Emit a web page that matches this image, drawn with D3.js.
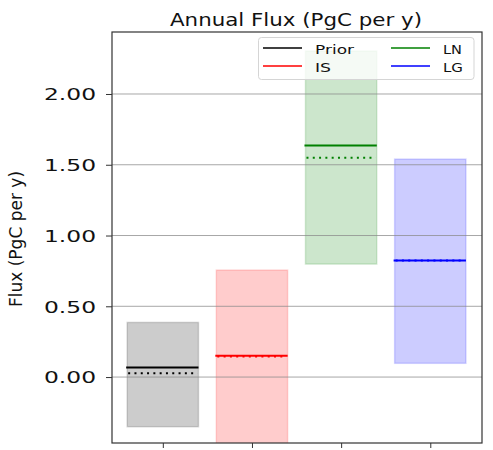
<!DOCTYPE html>
<html>
<head>
<meta charset="utf-8">
<script src="https://cdn.jsdelivr.net/npm/d3@7"></script>
<style>
  html, body { margin: 0; padding: 0; background: #fff; }
  svg { display: block; }
  text { fill: #111; }
</style>
</head>
<body>
<svg id="chart" width="493" height="450"></svg>
<script>
// Estimates of annual flux per method
const categories = ["Prior", "IS", "LN", "LG"];
const upperBound = [0.386, 0.756, 2.304, 1.54];
const lowerBound = [-0.351, -0.6, 0.798, 0.097];
const meanFlux   = [0.068, 0.150, 1.636, 0.824];
const medianFlux = [0.026, 0.145, 1.549, 0.824];
const yTicks = [0, 0.5, 1.0, 1.5, 2.0];
const yTickLabels = ["0.00", "0.50", "1.00", "1.50", "2.00"];

const colors = ["#000000", "#ff0000", "#008000", "#0000ff"];

const svg = d3.select("#chart");
const plot = { left: 112, right: 482, top: 32, bottom: 443 };

const x = d3.scaleLinear().domain([-0.57, 3.58]).range([plot.left, plot.right]);
const y = d3.scaleLinear().domain([-0.466, 2.438]).range([plot.bottom, plot.top]);
const barW = 0.8;

svg.append("defs").append("clipPath").attr("id", "clip")
  .append("rect")
  .attr("x", plot.left).attr("y", plot.top)
  .attr("width", plot.right - plot.left).attr("height", plot.bottom - plot.top);

const body = svg.append("g").attr("clip-path", "url(#clip)");

// uncertainty ranges
body.selectAll("rect.range")
  .data(categories)
  .join("rect")
  .attr("class", "range")
  .attr("x", (d, i) => x(i - barW / 2))
  .attr("width", (d, i) => x(i + barW / 2) - x(i - barW / 2))
  .attr("y", (d, i) => y(upperBound[i]))
  .attr("height", (d, i) => y(lowerBound[i]) - y(upperBound[i]))
  .attr("fill", (d, i) => colors[i])
  .attr("fill-opacity", 0.2)
  .attr("stroke", (d, i) => colors[i])
  .attr("stroke-opacity", 0.15)
  .attr("stroke-width", 1.5);

// horizontal grid
body.selectAll("line.grid")
  .data(yTicks)
  .join("line")
  .attr("class", "grid")
  .attr("x1", plot.left).attr("x2", plot.right)
  .attr("y1", d => y(d)).attr("y2", d => y(d))
  .attr("stroke", "#8a8a8a")
  .attr("stroke-opacity", 0.75)
  .attr("stroke-width", 1);

// median (dotted)
body.selectAll("line.median")
  .data(categories)
  .join("line")
  .attr("class", "median")
  .attr("x1", (d, i) => x(i - barW / 2) + 1)
  .attr("x2", (d, i) => x(i + barW / 2) - 1)
  .attr("y1", (d, i) => y(medianFlux[i]))
  .attr("y2", (d, i) => y(medianFlux[i]))
  .attr("stroke", (d, i) => colors[i])
  .attr("stroke-width", 2)
  .attr("stroke-dasharray", "2,4.3");

// mean (solid)
body.selectAll("line.mean")
  .data(categories)
  .join("line")
  .attr("class", "mean")
  .attr("x1", (d, i) => x(i - barW / 2) - 1)
  .attr("x2", (d, i) => x(i + barW / 2))
  .attr("y1", (d, i) => y(meanFlux[i]))
  .attr("y2", (d, i) => y(meanFlux[i]))
  .attr("stroke", (d, i) => colors[i])
  .attr("stroke-width", 2);

// frame
svg.append("rect")
  .attr("x", plot.left).attr("y", plot.top)
  .attr("width", plot.right - plot.left).attr("height", plot.bottom - plot.top)
  .attr("fill", "none").attr("stroke", "#333").attr("stroke-width", 1.2);

// y axis
const yAxis = d3.axisLeft(y).tickValues(yTicks).tickSize(6).tickPadding(10)
  .tickFormat((d, i) => yTickLabels[i]);
const gy = svg.append("g").attr("transform", `translate(${plot.left},0)`).call(yAxis);
gy.select(".domain").remove();
gy.selectAll(".tick line").attr("stroke", "#333").attr("stroke-width", 1);
gy.selectAll(".tick text")
  .style("font-family", "'DejaVu Sans', sans-serif")
  .style("font-size", "16px")
  .attr("fill", "#111")
  .attr("dy", "0.36em")
  .attr("textLength", 52)
  .attr("lengthAdjust", "spacingAndGlyphs");

// x axis ticks (no labels)
const xAxis = d3.axisBottom(x).tickValues(d3.range(categories.length)).tickSize(5).tickFormat("");
const gx = svg.append("g").attr("transform", `translate(0,${plot.bottom})`).call(xAxis);
gx.select(".domain").remove();
gx.selectAll(".tick line").attr("stroke", "#333").attr("stroke-width", 1);

// title
svg.append("text")
  .attr("x", 296).attr("y", 25.5)
  .attr("text-anchor", "middle")
  .style("font-family", "'DejaVu Sans', sans-serif")
  .style("font-size", "17px")
  .attr("textLength", 252)
  .attr("lengthAdjust", "spacingAndGlyphs")
  .text("Annual Flux (PgC per y)");

// y label
svg.append("text")
  .attr("transform", "translate(22,239) rotate(-90)")
  .attr("text-anchor", "middle")
  .style("font-family", "'DejaVu Sans', sans-serif")
  .style("font-size", "17px")
  .text("Flux (PgC per y)");

// legend
const legend = svg.append("g");
legend.append("rect")
  .attr("x", 258.5).attr("y", 37.5).attr("width", 215.5).attr("height", 42)
  .attr("rx", 3)
  .attr("fill", "#fff").attr("fill-opacity", 0.8)
  .attr("stroke", "#d5d5d5").attr("stroke-width", 1);

const legendPos = [
  { lx: 263, tx: 315, ly: 48, ty: 53.5, w: 39 },
  { lx: 263, tx: 315, ly: 66, ty: 71.7, w: 16 },
  { lx: 391, tx: 443, ly: 48, ty: 53.5, w: 19 },
  { lx: 391, tx: 443, ly: 66, ty: 71.7, w: 20 }
];
categories.forEach((c, i) => {
  const p = legendPos[i];
  legend.append("line")
    .attr("x1", p.lx).attr("x2", p.lx + 39)
    .attr("y1", p.ly).attr("y2", p.ly)
    .attr("stroke", colors[i]).attr("stroke-width", 1.5);
  legend.append("text")
    .attr("x", p.tx).attr("y", p.ty)
    .style("font-family", "'DejaVu Sans', sans-serif")
    .style("font-size", "11.5px")
    .attr("textLength", p.w)
    .attr("lengthAdjust", "spacingAndGlyphs")
    .text(c);
});
</script>
</body>
</html>
